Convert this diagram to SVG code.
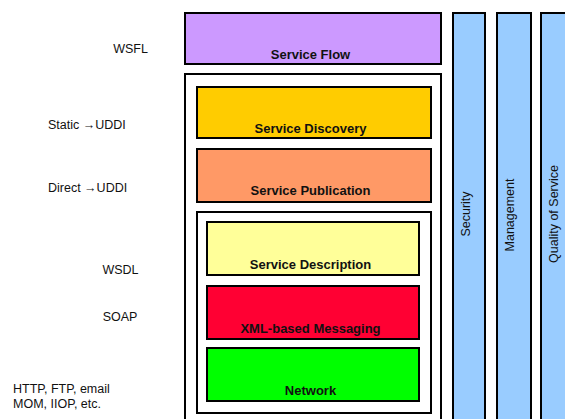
<svg xmlns="http://www.w3.org/2000/svg" width="565" height="419" viewBox="0 0 565 419">
  <style>
    .box { stroke: #000; stroke-width: 2; }
    .frame { fill: #fff; stroke: #000; stroke-width: 2; }
    .lbl { font-family: "Liberation Sans", Arial, sans-serif; font-size: 13px; font-weight: bold; fill: #111; text-anchor: middle; }
    .side { font-family: "Liberation Sans", Arial, sans-serif; font-size: 12.5px; fill: #111; }
    .col { font-family: "Liberation Sans", Arial, sans-serif; font-size: 12.5px; fill: #111; text-anchor: middle; }
  </style>

  <rect width="565" height="419" fill="#fff"/>

  <!-- left-hand technology labels -->
  <g id="left-labels">
    <text class="side" x="130.5" y="53" text-anchor="middle">WSFL</text>
    <text class="side" x="48" y="129">Static →UDDI</text>
    <text class="side" x="48" y="192">Direct →UDDI</text>
    <text class="side" x="120.5" y="274" text-anchor="middle">WSDL</text>
    <text class="side" x="120" y="321" text-anchor="middle">SOAP</text>
    <text class="side" x="13" y="393">HTTP, FTP, email</text>
    <text class="side" x="13" y="408">MOM, IIOP, etc.</text>
  </g>

  <!-- enclosing frames -->
  <g id="outer-frame">
    <rect class="frame" x="185" y="74" width="256" height="350"/>
  </g>
  <g id="inner-frame">
    <rect class="frame" x="197" y="212" width="234" height="201"/>
  </g>

  <!-- stack layers -->
  <g id="service-flow">
    <rect class="box" x="185" y="13" width="256" height="51" fill="#CC99FF"/>
    <text class="lbl" x="310.5" y="59">Service Flow</text>
  </g>
  <g id="service-discovery">
    <rect class="box" x="197" y="87" width="234" height="51" fill="#FFCC00"/>
    <text class="lbl" x="310.5" y="133">Service Discovery</text>
  </g>
  <g id="service-publication">
    <rect class="box" x="197" y="149" width="234" height="53" fill="#FF9966"/>
    <text class="lbl" x="310.5" y="195">Service Publication</text>
  </g>
  <g id="service-description">
    <rect class="box" x="207" y="222" width="212" height="53" fill="#FFFF99"/>
    <text class="lbl" x="310.5" y="269">Service Description</text>
  </g>
  <g id="xml-messaging">
    <rect class="box" x="207" y="286" width="212" height="53" fill="#FF0033"/>
    <text class="lbl" x="310.5" y="333">XML-based Messaging</text>
  </g>
  <g id="network">
    <rect class="box" x="207" y="348" width="212" height="53" fill="#00FF00"/>
    <text class="lbl" x="310.5" y="395">Network</text>
  </g>

  <!-- vertical cross-cutting columns -->
  <g id="security">
    <rect class="box" x="453" y="13" width="32" height="420" fill="#99CCFF"/>
    <text class="col" transform="translate(469.5,214) rotate(-90)">Security</text>
  </g>
  <g id="management">
    <rect class="box" x="497" y="13" width="34" height="420" fill="#99CCFF"/>
    <text class="col" transform="translate(513.5,215) rotate(-90)">Management</text>
  </g>
  <g id="quality-of-service">
    <rect class="box" x="541" y="13" width="40" height="420" fill="#99CCFF"/>
    <text class="col" transform="translate(557.5,214) rotate(-90)">Quality of Service</text>
  </g>

  <g id="connectors"/>
</svg>
